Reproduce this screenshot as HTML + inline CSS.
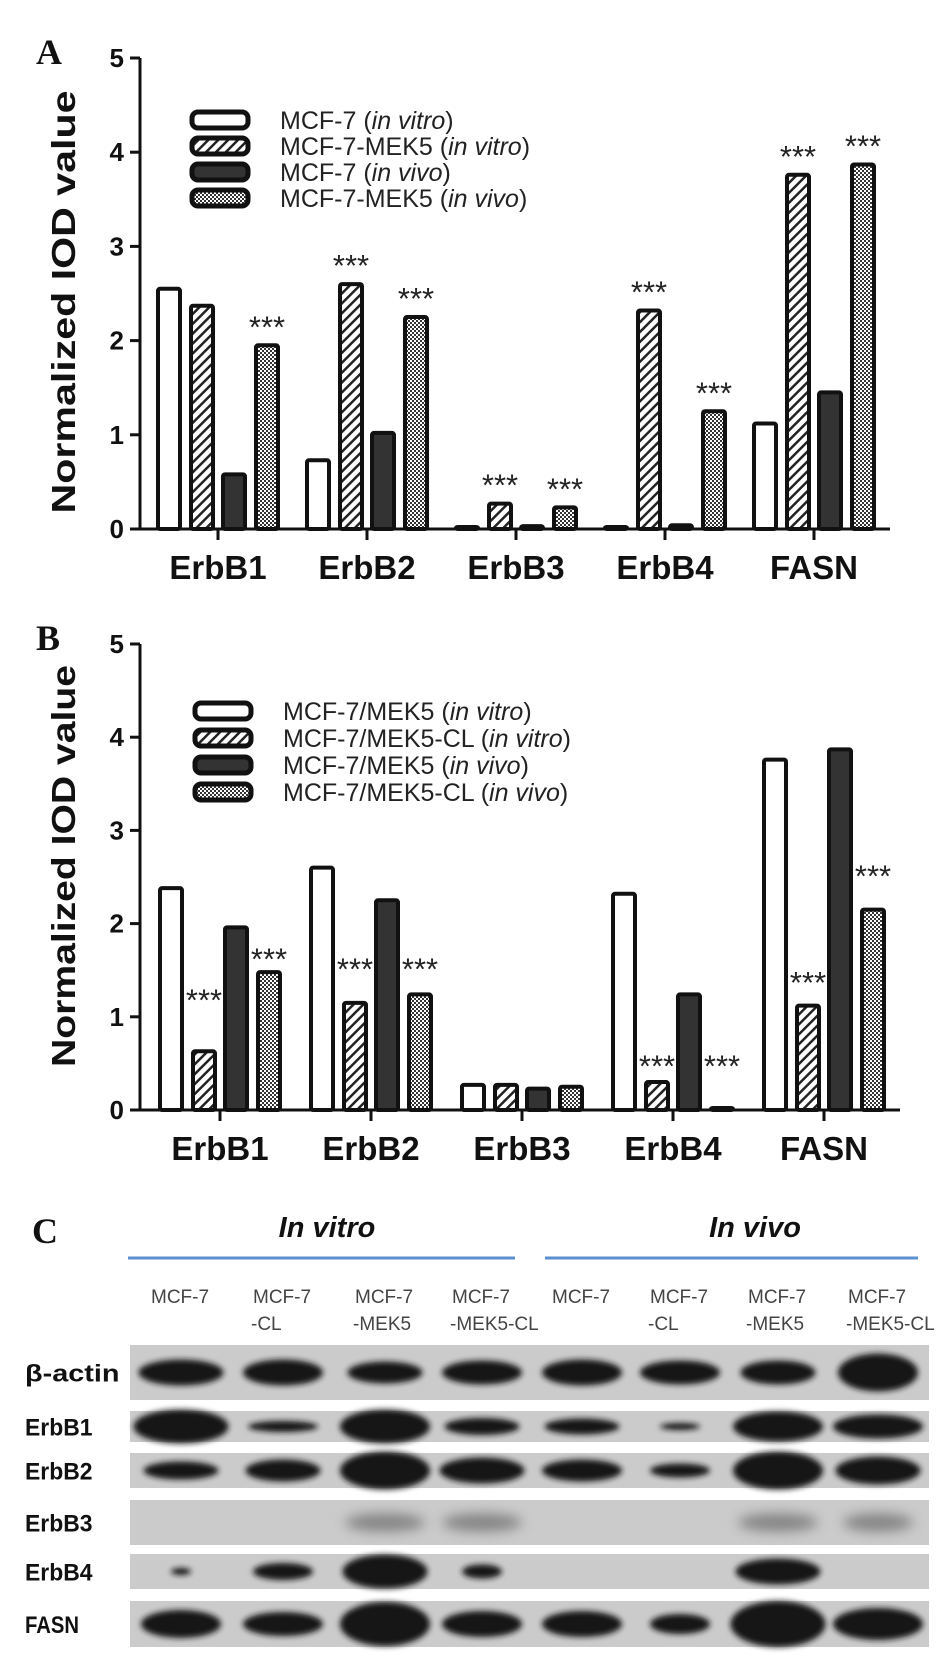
<!DOCTYPE html>
<html><head><meta charset="utf-8"><style>
html,body{margin:0;padding:0;background:#fff;}
svg{display:block;font-family:"Liberation Sans",sans-serif;}
</style></head><body>
<svg id="fig" width="945" height="1659" viewBox="0 0 945 1659" xmlns="http://www.w3.org/2000/svg">
<defs>
<pattern id="hatch" patternUnits="userSpaceOnUse" width="7" height="7" patternTransform="rotate(45)">
<rect width="7" height="7" fill="#fff"/><rect width="2.5" height="7" fill="#222"/></pattern>
<pattern id="check" patternUnits="userSpaceOnUse" width="4" height="4">
<rect width="4" height="4" fill="#fff"/><rect width="2" height="2" fill="#333"/><rect x="2" y="2" width="2" height="2" fill="#333"/></pattern>
<filter id="blur" x="-30%" y="-80%" width="160%" height="260%"><feGaussianBlur stdDeviation="3"/></filter>
<filter id="blur2" x="-30%" y="-80%" width="160%" height="260%"><feGaussianBlur stdDeviation="6"/></filter>
</defs>
<g id="panelA"></g>
<g id="panelB"></g>
<g id="panelC"></g>
</svg>
<script>
// ---------- data ----------
const categories = ["ErbB1","ErbB2","ErbB3","ErbB4","FASN"];
const yTicks = [0,1,2,3,4,5];
const seriesFills = ["#fff","url(#hatch)","#333","url(#check)"];
const legendA = ["MCF-7 (|in vitro|)","MCF-7-MEK5 (|in vitro|)","MCF-7 (|in vivo|)","MCF-7-MEK5 (|in vivo|)"];
const legendB = ["MCF-7/MEK5 (|in vitro|)","MCF-7/MEK5-CL (|in vitro|)","MCF-7/MEK5 (|in vivo|)","MCF-7/MEK5-CL (|in vivo|)"];
const a_s1 = [2.55,0.73,0.01,0.01,1.12];
const a_s2 = [2.37,2.60,0.27,2.32,3.76];
const a_s3 = [0.58,1.02,0.03,0.04,1.45];
const a_s4 = [1.95,2.25,0.23,1.25,3.87];
const b_s1 = [2.38,2.60,0.27,2.32,3.76];
const b_s2 = [0.63,1.15,0.27,0.30,1.12];
const b_s3 = [1.96,2.25,0.23,1.24,3.87];
const b_s4 = [1.48,1.24,0.25,0.02,2.15];
// significance: [category index, series index]
const a_sig = [[0,3],[1,1],[1,3],[2,1],[2,3],[3,1],[3,3],[4,1],[4,3]];
const b_sig = [[0,1],[0,3],[1,1],[1,3],[3,1],[3,3],[4,1],[4,3]];
const b_sigLevel = [1.25,1.69,1.58,1.58,0.54,0.54,1.44,2.58];

const NS="http://www.w3.org/2000/svg";
function mk(parent,tag,attrs,text){const e=document.createElementNS(NS,tag);for(const k in attrs)e.setAttribute(k,attrs[k]);if(text!==undefined)e.textContent=text;parent.appendChild(e);return e;}

function drawChart(g,cfg){
  const y=v=>cfg.y0-(v/5)*(cfg.y0-cfg.y5);
  const x=i=>cfg.xc0+i*cfg.step;
  const offs=[-49,-16,16,49];
  const ya=mk(g,'line',{x1:cfg.ax,y1:cfg.y5,x2:cfg.ax,y2:cfg.y0,stroke:'#111','stroke-width':3});
  
  
  const xa=mk(g,'line',{x1:cfg.ax,y1:cfg.y0,x2:cfg.xend,y2:cfg.y0,stroke:'#111','stroke-width':3});
  
  
  yTicks.forEach(t=>{
    const tk=mk(g,'line',{x1:cfg.ax-10,y1:y(t),x2:cfg.ax,y2:y(t),stroke:'#111','stroke-width':3});
    
    
    const tl=mk(g,'text',{x:cfg.ax-16,y:y(t)+9,'text-anchor':'end','font-size':26,'font-weight':'bold',fill:'#111'},String(t));
    
    
  });
  categories.forEach((c,i)=>{
    const tk=mk(g,'line',{x1:x(i),y1:cfg.y0,x2:x(i),y2:cfg.y0+11,stroke:'#111','stroke-width':3});
    
    
    const tl=mk(g,'text',{x:x(i),y:cfg.y0+50,'text-anchor':'middle','font-size':33,'font-weight':'bold',fill:'#111'},c);
    
    
  });
  cfg.series.forEach((s,si)=>{
    s.forEach((v,i)=>{
      const top=y(v), h=Math.max(cfg.y0-top,2);
      const r=mk(g,'rect',{x:x(i)+offs[si]-11,y:cfg.y0-h,width:22,height:h,fill:seriesFills[si],stroke:'#111','stroke-width':4,rx:2});
      
      
    });
  });
  cfg.sig.forEach((p,k)=>{
    const [ci,si]=p;
    let cy = cfg.sigLevel? y(cfg.sigLevel[k]) : y(cfg.series[si][ci])-25;
    const st=mk(g,'text',{x:x(ci)+offs[si],y:cy+17,'text-anchor':'middle','font-size':31,fill:'#222'},'***');
    
    
  });
  cfg.legend.forEach((l,k)=>{
    const ly=cfg.legY+k*cfg.legStep;
    const b=mk(g,'rect',{x:cfg.legX,y:ly-8,width:56,height:16,rx:6,fill:seriesFills[k],stroke:'#111','stroke-width':5});
    
    
    const t=mk(g,'text',{x:cfg.legX+88,y:ly+9,'font-size':25,fill:'#222'});
    
    
    l.split('|').forEach((part,pi)=>{const sp=mk(t,'tspan',{},part);if(pi===1)sp.setAttribute('font-style','italic');});
  });
  const yt=mk(g,'text',{x:0,y:0,transform:`translate(${cfg.titleX},${cfg.titleY}) rotate(-90)`,'text-anchor':'middle','font-size':33,'font-weight':'bold',fill:'#111',textLength:cfg.titleLen,lengthAdjust:'spacingAndGlyphs'},cfg.title);
  
  
  const pl=mk(g,'text',{x:cfg.labX,y:cfg.labY,'font-size':36,'font-weight':'bold','font-family':'Liberation Serif, serif',fill:'#111'},cfg.label);
  
  
}

drawChart(document.getElementById('panelA'),{y0:529,y5:58,ax:140,xend:890,xc0:218,step:149,series:[a_s1,a_s2,a_s3,a_s4],sig:a_sig,
  legend:legendA,legX:192,legY:120,legStep:26,title:'Normalized  IOD value',titleX:75,titleY:302,titleLen:423,label:'A',labX:36,labY:64});
drawChart(document.getElementById('panelB'),{y0:1110,y5:644,ax:140,xend:900,xc0:220,step:151,series:[b_s1,b_s2,b_s3,b_s4],sig:b_sig,sigLevel:b_sigLevel,
  legend:legendB,legX:195,legY:711,legStep:27,title:'Normalized IOD value',titleX:75,titleY:866,titleLen:402,label:'B',labX:36,labY:650});

// ---------- panel C ----------
const laneNames = [["MCF-7",""],["MCF-7","-CL"],["MCF-7","-MEK5"],["MCF-7","-MEK5-CL"],["MCF-7",""],["MCF-7","-CL"],["MCF-7","-MEK5"],["MCF-7","-MEK5-CL"]];
const rowNames = ["β-actin","ErbB1","ErbB2","ErbB3","ErbB4","FASN"];
const bandWidth = [[85,80,75,80,80,80,75,80],[95,70,90,75,75,40,90,90],[75,75,90,85,80,60,90,85],[0,0,80,80,0,0,80,70],[20,60,85,40,0,0,85,0],[80,80,90,80,80,60,95,90]];
const bandHeight = [[22,22,18,20,22,20,20,34],[30,7,30,13,12,3,26,20],[14,18,34,22,18,10,34,24],[0,0,14,14,0,0,14,14],[3,13,30,10,0,0,22,0],[24,20,40,22,22,16,42,28]];
const C = document.getElementById('panelC');
const laneX=[181,283,385,482,582,680,778,878];
const rowY=[[1345,1400],[1411,1442],[1453,1488],[1500,1545],[1554,1589],[1601,1647]];
const lc=mk(C,'text',{x:32,y:1243,'font-size':36,'font-weight':'bold','font-family':'Liberation Serif, serif',fill:'#111'},'C');


[["In vitro",327,128,515],["In vivo",755,545,918]].forEach(h=>{
  const t=mk(C,'text',{x:h[1],y:1237,'text-anchor':'middle','font-size':29,'font-style':'italic','font-weight':'bold',fill:'#111'},h[0]);
  
  
  const l=mk(C,'line',{x1:h[2],y1:1258,x2:h[3],y2:1258,stroke:'#5b8fd0','stroke-width':3});
  
  
});
laneNames.forEach((n,i)=>{
  const t=mk(C,'text',{x:laneX[i]-30,y:1303,'font-size':19,fill:'#444'});
  
  
  mk(t,'tspan',{x:laneX[i]-30},n[0]);
  mk(t,'tspan',{x:laneX[i]-32,dy:27},n[1]);
});
rowNames.forEach((r,ri)=>{
  const [y1,y2]=rowY[ri];
  const s=mk(C,'rect',{x:130,y:y1,width:799,height:y2-y1,fill:'#cbcbcb'});
  
  
  const t=mk(C,'text',{x:25,y:(y1+y2)/2+9,'font-size':24,'font-weight':'bold',fill:'#111',textLength:r.length*13.5,lengthAdjust:'spacingAndGlyphs'},r);
  
  
  laneX.forEach((lx,li)=>{
    const w=bandWidth[ri][li], h=bandHeight[ri][li];
    if(!w) return;
    const faint = ri===3;
    const e=mk(C,'ellipse',{cx:lx,cy:(y1+y2)/2,rx:w/2,ry:h/2+2,fill:faint?'#555':'#151515',opacity:faint?0.6:1,filter:faint?'url(#blur2)':'url(#blur)'});
    
    
  });
});
</script>
</body></html>
